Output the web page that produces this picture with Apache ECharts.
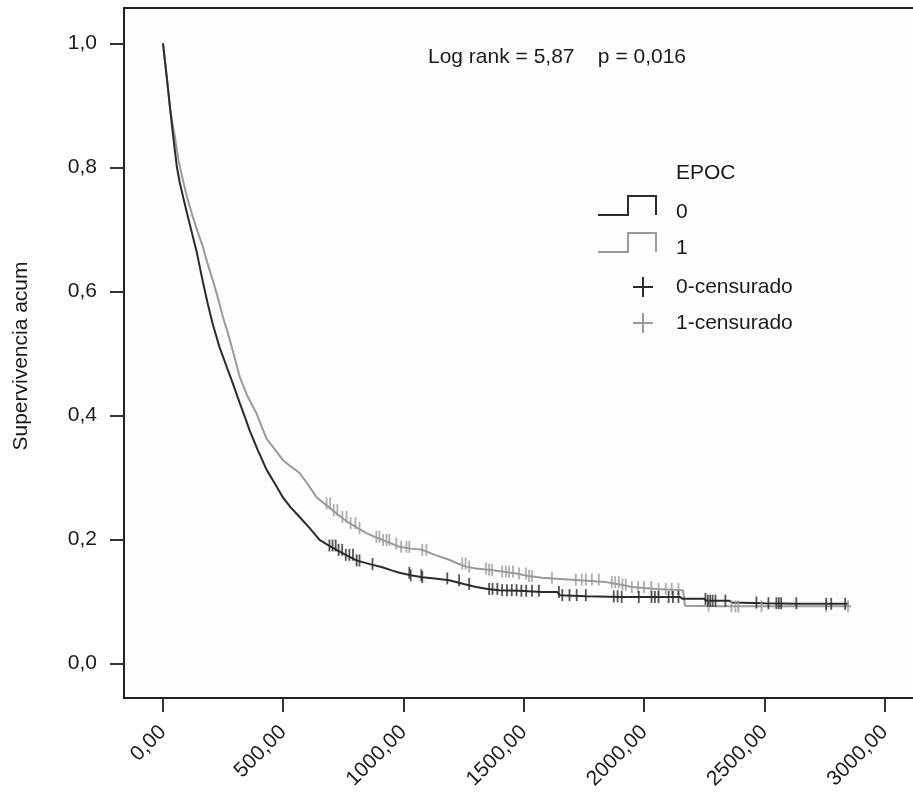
<!DOCTYPE html>
<html>
<head>
<meta charset="utf-8">
<script src="https://cdn.jsdelivr.net/npm/echarts@6/dist/echarts.min.js"></script>
<style>
  html, body { margin: 0; padding: 0; background: #fff; }
  #chart { width: 913px; height: 792px; }
</style>
</head>
<body>
<div id="chart"></div>
<script>
// Kaplan-Meier, EPOC = 0 (dark) y EPOC = 1 (light)
const darkTimes = [0, 10, 20, 30, 41, 50, 58, 70, 85, 100, 120, 141, 166, 185, 207, 235, 265, 290, 319,
  340, 361, 395, 431, 465, 498, 530, 568, 610, 651, 690, 721, 760, 804, 860, 912, 950, 983, 1030, 1078,
  1130, 1190, 1250, 1302, 1350, 1397, 1480, 1575, 1640, 1650, 1760, 1900, 2150, 2160, 2250, 2260, 2355, 2365, 2500, 2640, 2850];
const darkSurv = [1.0, 0.965, 0.93, 0.893, 0.855, 0.825, 0.8, 0.775, 0.75, 0.726, 0.695, 0.662, 0.615, 0.582, 0.547, 0.51, 0.478, 0.452, 0.42,
  0.398, 0.375, 0.343, 0.312, 0.29, 0.268, 0.252, 0.236, 0.218, 0.199, 0.19, 0.183, 0.175, 0.166, 0.16, 0.155, 0.15, 0.146, 0.142, 0.139,
  0.137, 0.134, 0.128, 0.123, 0.12, 0.118, 0.117, 0.115, 0.115, 0.110, 0.108, 0.107, 0.107, 0.104, 0.104, 0.101, 0.101, 0.098, 0.097, 0.096, 0.096];

const lightTimes = [0, 10, 20, 30, 40, 50, 65, 83, 100, 124, 145, 166, 185, 207, 228, 249, 268, 286, 300, 319,
  350, 390, 410, 431, 465, 498, 530, 568, 600, 638, 670, 705, 740, 775, 810, 846, 880, 912, 950, 983,
  1030, 1078, 1130, 1190, 1225, 1260, 1300, 1356, 1410, 1468, 1520, 1575, 1700, 1841, 1900, 1949, 2050, 2162, 2170, 2300, 2860];
const lightSurv = [1.0, 0.965, 0.93, 0.895, 0.87, 0.848, 0.81, 0.779, 0.752, 0.72, 0.695, 0.672, 0.645, 0.618, 0.59, 0.559, 0.535, 0.51, 0.49, 0.462,
  0.432, 0.402, 0.382, 0.362, 0.345, 0.328, 0.318, 0.307, 0.29, 0.268, 0.258, 0.247, 0.236, 0.226, 0.218, 0.21, 0.204, 0.199, 0.193, 0.188,
  0.185, 0.183, 0.175, 0.167, 0.161, 0.156, 0.153, 0.151, 0.148, 0.145, 0.141, 0.138, 0.135, 0.131, 0.127, 0.123, 0.12, 0.118, 0.093, 0.092, 0.092];

const darkCensored = [692, 705, 718, 730, 745, 760, 775, 790, 805, 817, 871, 1024, 1030, 1074, 1078, 1182, 1231, 1273,
  1356, 1370, 1390, 1410, 1430, 1450, 1470, 1490, 1510, 1534, 1563, 1646, 1660, 1690, 1720, 1758, 1874, 1890, 1907,
  1978, 2031, 2045, 2060, 2102, 2120, 2143, 2255, 2265, 2275, 2285, 2297, 2338, 2467, 2517, 2550, 2560, 2570, 2633,
  2757, 2778, 2836];
const lightCensored = [680, 695, 710, 725, 746, 763, 780, 800, 817, 887, 900, 915, 929, 941, 970, 990, 1012, 1024,
  1078, 1095, 1244, 1258, 1273, 1343, 1356, 1368, 1410, 1426, 1439, 1455, 1480, 1509, 1522, 1534, 1617, 1716, 1741,
  1758, 1783, 1812, 1866, 1880, 1895, 1910, 1924, 1949, 1975, 2000, 2030, 2060, 2090, 2115, 2143, 2268, 2363, 2380,
  2392, 2488, 2757, 2848];

const xTicks = [0, 500, 1000, 1500, 2000, 2500, 3000];
const yTicks = [0, 0.2, 0.4, 0.6, 0.8, 1.0];

const DARK = '#2b2b2b';
const LIGHT = '#9a9a9a';
const FONT = '"Liberation Sans", Arial, sans-serif';

function pairs(ts, ss) {
  return ts.map((t, i) => [t, ss[i]]);
}

// value of the curve at time t (censor marks sit on the curve)
function survivalAt(ts, ss, t) {
  let s = ss[0];
  for (let i = 0; i < ts.length; i++) {
    if (ts[i] <= t) s = ss[i];
  }
  return s;
}

function censorPoints(cs, ts, ss) {
  return cs.map((t) => [t, survivalAt(ts, ss, t)]);
}

const chart = echarts.init(document.getElementById('chart'));

const txt = (text, x, y, extra) => ({
  type: 'text',
  x, y,
  style: Object.assign({ text, x: 0, y: 0, font: '21px ' + FONT, fill: '#1a1a1a', align: 'left', verticalAlign: 'middle' }, extra || {}),
});

const yTitle = txt('Supervivencia acum', 21, 356, { align: 'center' });
yTitle.rotation = Math.PI / 2;

const option = {
  animation: false,
  grid: {
    left: 124, right: 0, top: 8, bottom: 94,
    outerBoundsMode: 'none',
    containLabel: false,
    show: true, backgroundColor: '#fdfdfd', borderWidth: 0,
  },
  xAxis: [
    {
      type: 'value',
      min: -162, max: 3118,
      axisLine: { show: true, onZero: false, lineStyle: { color: '#222', width: 2 } },
      axisTick: { show: true, customValues: xTicks, length: 14, lineStyle: { color: '#333', width: 2 } },
      axisLabel: {
        customValues: xTicks,
        rotate: 45,
        margin: 31,
        fontSize: 21,
        fontFamily: FONT,
        color: '#1a1a1a',
        formatter: (v) => v.toFixed(2).replace('.', ','),
      },
      splitLine: { show: false },
    },
    {
      type: 'value',
      position: 'top',
      min: -162, max: 3118,
      axisLine: { show: true, onZero: false, lineStyle: { color: '#222', width: 2 } },
      axisTick: { show: false },
      axisLabel: { show: false },
      splitLine: { show: false },
    },
  ],
  yAxis: {
    type: 'value',
    min: -0.0559, max: 1.0569,
    axisLine: { show: true, onZero: false, lineStyle: { color: '#222', width: 2 } },
    axisTick: { show: true, customValues: yTicks, length: 14, lineStyle: { color: '#333', width: 2 } },
    axisLabel: {
      customValues: yTicks,
      margin: 27,
      fontSize: 21,
      fontFamily: FONT,
      color: '#1a1a1a',
      formatter: (v) => v.toFixed(1).replace('.', ','),
    },
    splitLine: { show: false },
  },
  series: [
    {
      name: '1',
      type: 'line',
      showSymbol: false,
      data: pairs(lightTimes, lightSurv),
      lineStyle: { color: LIGHT, width: 2 },
      itemStyle: { color: LIGHT },
      z: 2,
    },
    {
      name: '0',
      type: 'line',
      showSymbol: false,
      data: pairs(darkTimes, darkSurv),
      lineStyle: { color: DARK, width: 2 },
      itemStyle: { color: DARK },
      z: 3,
    },
    {
      name: '1-censurado',
      type: 'scatter',
      symbol: 'rect',
      symbolSize: [1.8, 12],
      data: censorPoints(lightCensored, lightTimes, lightSurv),
      itemStyle: { color: LIGHT },
      z: 4,
    },
    {
      name: '0-censurado',
      type: 'scatter',
      symbol: 'rect',
      symbolSize: [1.8, 12],
      data: censorPoints(darkCensored, darkTimes, darkSurv),
      itemStyle: { color: DARK },
      z: 5,
    },
  ],
  graphic: [
    txt('Log rank = 5,87    p = 0,016', 428, 57),
    yTitle,
    txt('EPOC', 676, 173),
    txt('0', 676, 212),
    txt('1', 676, 248),
    txt('0-censurado', 676, 287),
    txt('1-censurado', 676, 323),
    {
      type: 'polyline',
      shape: { points: [[598, 215], [628, 215], [628, 196], [656, 196], [656, 215]] },
      style: { stroke: DARK, lineWidth: 2, fill: null },
    },
    {
      type: 'polyline',
      shape: { points: [[598, 252], [628, 252], [628, 233], [656, 233], [656, 252]] },
      style: { stroke: LIGHT, lineWidth: 2, fill: null },
    },
    { type: 'line', shape: { x1: 633, y1: 287, x2: 653, y2: 287 }, style: { stroke: DARK, lineWidth: 2 } },
    { type: 'line', shape: { x1: 643, y1: 277, x2: 643, y2: 297 }, style: { stroke: DARK, lineWidth: 2 } },
    { type: 'line', shape: { x1: 633, y1: 323, x2: 653, y2: 323 }, style: { stroke: LIGHT, lineWidth: 2 } },
    { type: 'line', shape: { x1: 643, y1: 313, x2: 643, y2: 333 }, style: { stroke: LIGHT, lineWidth: 2 } },
  ],
};

chart.setOption(option);
</script>
</body>
</html>
